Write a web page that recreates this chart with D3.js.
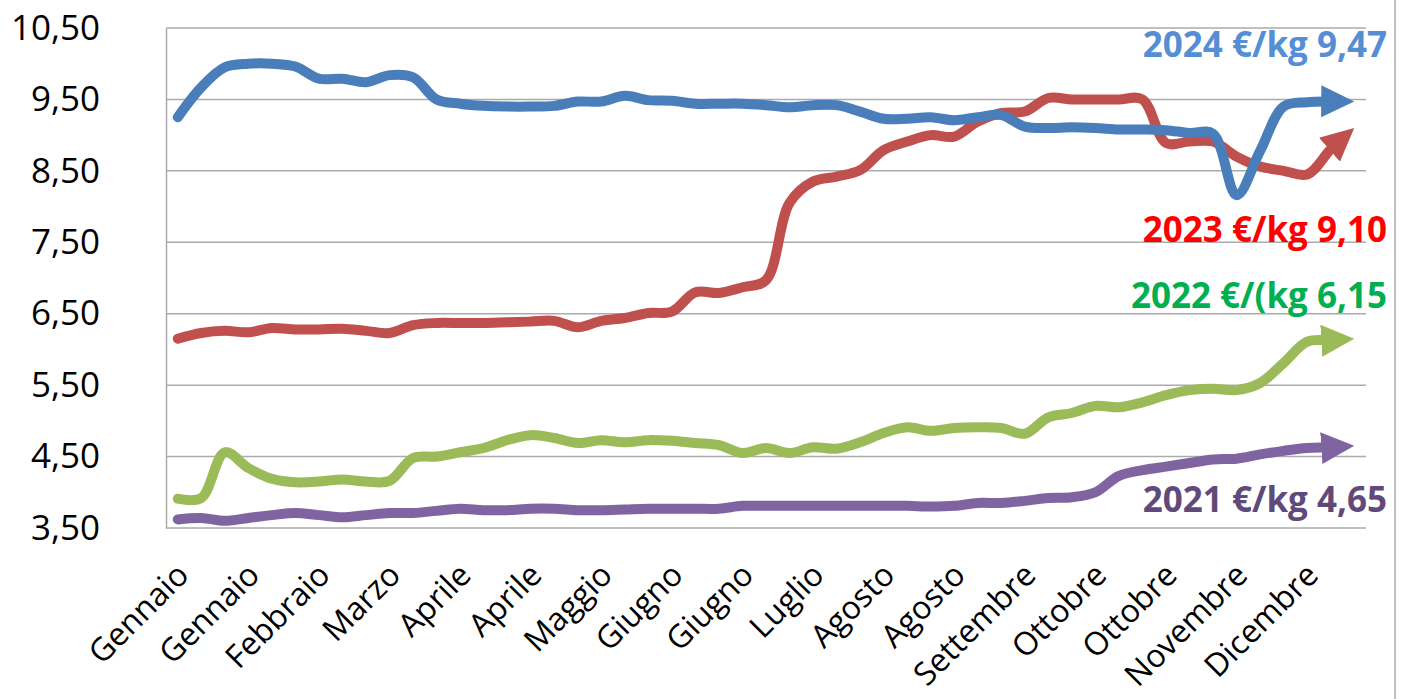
<!DOCTYPE html>
<html>
<head>
<meta charset="utf-8">
<script src="https://cdn.jsdelivr.net/npm/d3@7"></script>
<style>
  body { margin: 0; background: #fff; }
  svg { display: block; font-family: "Open Sans", sans-serif; }
</style>
</head>
<body>
<svg id="chart" width="1403" height="699"></svg>
<script>
// month labels, one every third week
var months = ['Gennaio', 'Gennaio', 'Febbraio', 'Marzo', 'Aprile', 'Aprile', 'Maggio', 'Giugno',
  'Giugno', 'Luglio', 'Agosto', 'Agosto', 'Settembre', 'Ottobre', 'Ottobre', 'Novembre', 'Dicembre'];

var yTicks = [3.5, 4.5, 5.5, 6.5, 7.5, 8.5, 9.5, 10.5];

// weekly prices, €/kg
var y2024 = [9.25, 9.67, 9.95, 10.0, 10.0, 9.96, 9.79, 9.79, 9.74, 9.84, 9.81, 9.50, 9.44, 9.41, 9.40, 9.40,
  9.41, 9.47, 9.47, 9.55, 9.49, 9.48, 9.44, 9.44, 9.44, 9.42, 9.39, 9.42, 9.42, 9.33, 9.23, 9.23, 9.25,
  9.21, 9.25, 9.28, 9.12, 9.10, 9.11, 9.10, 9.08, 9.08, 9.07, 9.03, 9.02, 8.16, 8.78, 9.40, 9.46, 9.47, 9.47];
var y2023 = [6.15, 6.23, 6.26, 6.24, 6.30, 6.28, 6.28, 6.29, 6.26, 6.23, 6.34, 6.37, 6.37, 6.37, 6.38, 6.39,
  6.40, 6.31, 6.40, 6.44, 6.51, 6.53, 6.80, 6.79, 6.87, 6.97, 8.05, 8.35, 8.42, 8.51, 8.79, 8.91, 9.00,
  8.98, 9.19, 9.31, 9.33, 9.52, 9.50, 9.50, 9.50, 9.50, 8.89, 8.91, 8.91, 8.70, 8.56, 8.50, 8.45, 8.80, 9.10];
var y2022 = [3.91, 3.92, 4.56, 4.34, 4.19, 4.14, 4.15, 4.18, 4.15, 4.16, 4.48, 4.50, 4.56, 4.62, 4.73, 4.80,
  4.76, 4.69, 4.73, 4.70, 4.73, 4.72, 4.69, 4.66, 4.55, 4.62, 4.55, 4.63, 4.61, 4.70, 4.83, 4.91, 4.86,
  4.90, 4.91, 4.90, 4.82, 5.05, 5.11, 5.21, 5.19, 5.26, 5.36, 5.43, 5.45, 5.43, 5.53, 5.81, 6.11, 6.13, 6.15];
var y2021 = [3.62, 3.64, 3.60, 3.64, 3.68, 3.71, 3.68, 3.65, 3.68, 3.71, 3.71, 3.74, 3.77, 3.75, 3.75, 3.77,
  3.77, 3.75, 3.75, 3.76, 3.77, 3.77, 3.77, 3.77, 3.81, 3.81, 3.81, 3.81, 3.81, 3.81, 3.81, 3.81, 3.80,
  3.81, 3.85, 3.85, 3.88, 3.92, 3.93, 4.00, 4.23, 4.31, 4.36, 4.41, 4.46, 4.47, 4.53, 4.58, 4.62, 4.63, 4.65];

var seriesNames = ['2021 €/kg 4,65', '2022 €/(kg 6,15', '2023 €/kg 9,10', '2024 €/kg 9,47'];

var series = [
  { key: 's2021', values: y2021, line: '#8064a2', text: '#604a7b', name: seriesNames[0], labelY: 512 },
  { key: 's2022', values: y2022, line: '#9bbb59', text: '#00b050', name: seriesNames[1], labelY: 308 },
  { key: 's2023', values: y2023, line: '#c0504d', text: '#ff0000', name: seriesNames[2], labelY: 242 },
  { key: 's2024', values: y2024, line: '#4a7ebb', text: '#558ed5', name: seriesNames[3], labelY: 57 }
];

var margin = { top: 28, left: 166, right: 1366, bottom: 528 };

var xScale = d3.scalePoint()
  .domain(d3.range(y2024.length))
  .range([margin.left, margin.right])
  .padding(0.5);

var yScale = d3.scaleLinear()
  .domain([3.5, 10.5])
  .range([margin.bottom, margin.top]);

var svg = d3.select('#chart');

// gridlines
svg.append('g')
  .attr('class', 'grid')
  .selectAll('line')
  .data(yTicks)
  .enter()
  .append('line')
  .attr('x1', margin.left)
  .attr('x2', margin.right)
  .attr('y1', function(d) { return yScale(d); })
  .attr('y2', function(d) { return yScale(d); })
  .attr('stroke', '#ababab')
  .attr('stroke-width', 1.5);

// y axis
var yAxis = d3.axisLeft(yScale)
  .tickValues(yTicks)
  .tickSize(0)
  .tickPadding(66)
  .tickFormat(function(d) { return d3.format('.2f')(d).replace('.', ','); });

var gy = svg.append('g')
  .attr('transform', 'translate(' + margin.left + ',0)')
  .call(yAxis);
gy.select('.domain').attr('stroke', '#ababab').attr('stroke-width', 1.5);
gy.selectAll('text')
  .attr('fill', '#000')
  .style('font-family', '"Open Sans", sans-serif')
  .style('font-size', '35px');

// x labels
svg.append('g')
  .selectAll('text')
  .data(months)
  .enter()
  .append('text')
  .attr('transform', function(d, i) {
    return 'translate(' + (xScale(i * 3) + 5) + ',569) rotate(-45)';
  })
  .attr('text-anchor', 'end')
  .attr('dy', '0.35em')
  .style('font-size', '32px')
  .text(function(d) { return d; });

// right border
svg.append('line')
  .attr('x1', 1395).attr('x2', 1395)
  .attr('y1', 0).attr('y2', 699)
  .attr('stroke', '#ababab')
  .attr('stroke-width', 1.5);

// arrow markers
var defs = svg.append('defs');
series.forEach(function(s) {
  defs.append('marker')
    .attr('id', 'arrow-' + s.key)
    .attr('markerUnits', 'userSpaceOnUse')
    .attr('markerWidth', 34)
    .attr('markerHeight', 34)
    .attr('viewBox', '0 0 34 34')
    .attr('refX', 33)
    .attr('refY', 16)
    .attr('orient', 'auto')
    .append('path')
    .attr('d', 'M0,0L33,16L0,32Z')
    .attr('fill', s.line);
});

var line = d3.line()
  .x(function(d, i) { return xScale(i); })
  .y(function(d) { return yScale(d); })
  .curve(d3.curveCatmullRom.alpha(0.5));

svg.append('g')
  .selectAll('path')
  .data(series)
  .enter()
  .append('path')
  .attr('d', function(d) { return line(d.values); })
  .attr('fill', 'none')
  .attr('stroke', function(d) { return d.line; })
  .attr('stroke-width', 10)
  .attr('stroke-linecap', 'round')
  .attr('stroke-linejoin', 'round')
  .attr('marker-end', function(d) { return 'url(#arrow-' + d.key + ')'; })
  .each(function() {
    // stop the stroke inside the arrowhead so the tip stays sharp
    var len = this.getTotalLength();
    d3.select(this).attr('stroke-dasharray', (len - 15) + ' ' + len);
  });

// series labels
svg.append('g')
  .selectAll('text')
  .data(series)
  .enter()
  .append('text')
  .attr('x', 1387)
  .attr('y', function(d) { return d.labelY; })
  .attr('text-anchor', 'end')
  .attr('fill', function(d) { return d.text; })
  .style('font-size', '35px')
  .style('font-weight', 'bold')
  .text(function(d) { return d.name; });
</script>
</body>
</html>
